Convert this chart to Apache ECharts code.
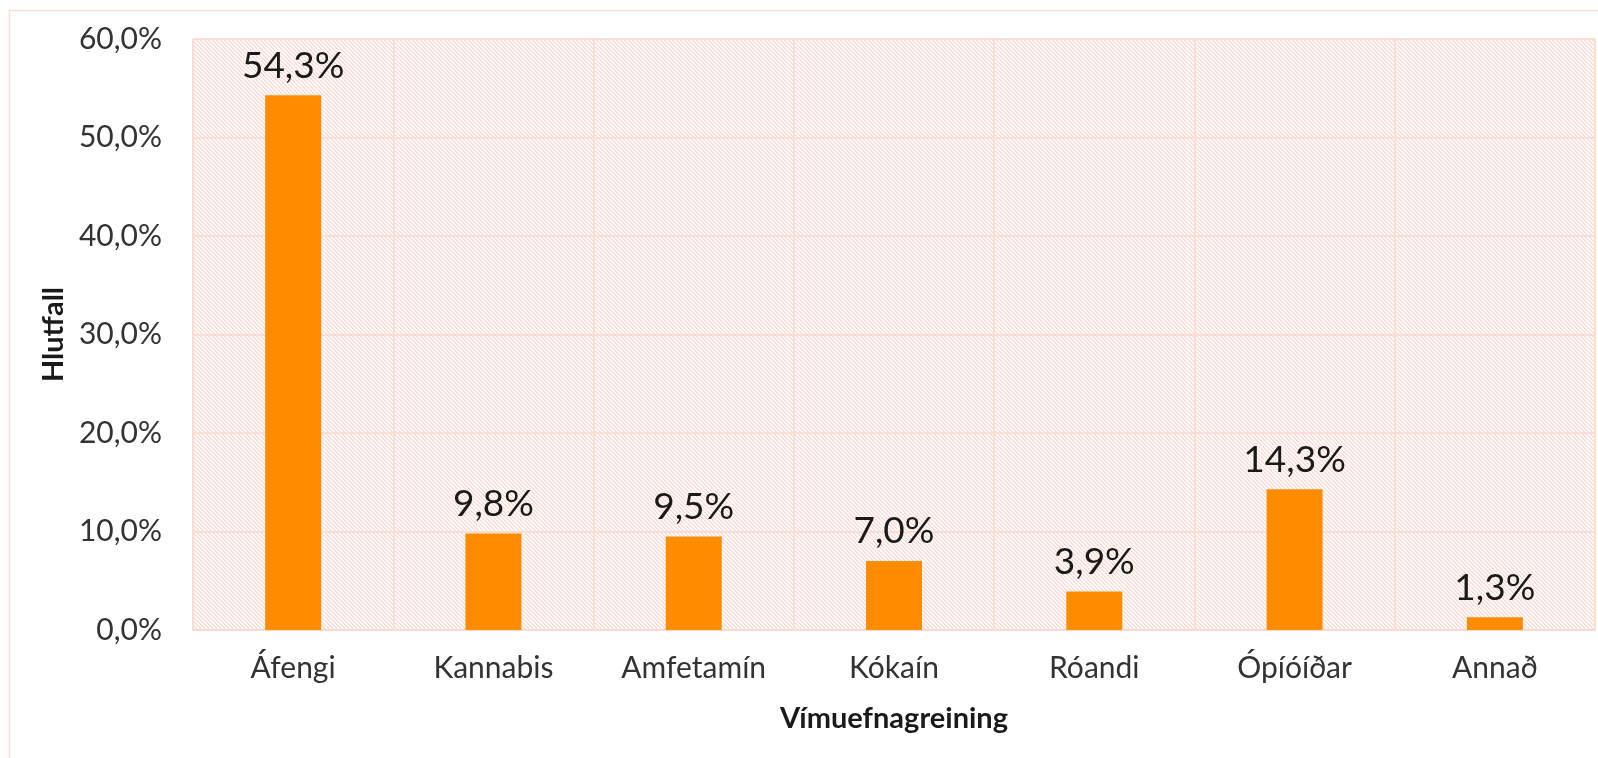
<!DOCTYPE html>
<html>
<head>
<meta charset="utf-8">
<script src="https://cdn.jsdelivr.net/npm/echarts@6/dist/echarts.min.js"></script>
<style>
  html, body { margin: 0; padding: 0; background: #fff; }
  #chart { width: 1598px; height: 758px; }
</style>
</head>
<body>
<div id="chart"></div>
<script>
// Data
const categories = ['Áfengi', 'Kannabis', 'Amfetamín', 'Kókaín', 'Róandi', 'Ópíóíðar', 'Annað']
const shares = [54.3, 9.8, 9.5, 7.0, 3.9, 14.3, 1.3]
const yTicks = { min: 0, max: 60, interval: 10 }

const pink = '#ffd8ce'
const fontFamily = 'Lato, "Open Sans", sans-serif'

// diagonal hatch pattern for the plot area
const makeHatch = () => {
  const c = document.createElement('canvas')
  c.width = 4
  c.height = 4
  const ctx = c.getContext('2d')
  ctx.fillStyle = '#fff'
  ctx.fillRect(0, 0, 4, 4)
  for (let y = 0; y < 4; y++) {
    ctx.fillStyle = 'rgb(255,214,204)'
    ctx.fillRect(y % 4, y, 1, 1)
    ctx.fillStyle = 'rgb(255,232,226)'
    ctx.fillRect((y + 1) % 4, y, 1, 1)
  }
  return c
}

const fmt = v => v.toFixed(1).replace('.', ',') + '%'

const chart = echarts.init(document.getElementById('chart'))
chart.setOption({
  backgroundColor: '#fff',
  animation: false,
  textStyle: { fontFamily },
  graphic: [{
    type: 'rect',
    shape: { x: 9.5, y: 10.5, width: 1700, height: 800 },
    style: { fill: 'none', stroke: '#ffe0d8', lineWidth: 1.5 },
    z: -1
  }],
  grid: {
    left: 193, right: 3, top: 39, bottom: 128,
    show: true,
    backgroundColor: { image: makeHatch(), repeat: 'repeat' },
    borderColor: pink,
    borderWidth: 1
  },
  xAxis: {
    type: 'category',
    data: categories,
    name: 'Vímuefnagreining',
    nameLocation: 'middle',
    nameGap: 74,
    nameTextStyle: { fontSize: 29, fontWeight: 'bold', color: '#1a1a1a', fontFamily },
    axisLine: { lineStyle: { color: pink, width: 1.5 } },
    axisTick: { show: false },
    axisLabel: { fontSize: 30, color: '#333', margin: 23, fontFamily },
    splitLine: { show: true, interval: 0, lineStyle: { color: pink, width: 1.5 } }
  },
  yAxis: {
    type: 'value',
    min: yTicks.min,
    max: yTicks.max,
    interval: yTicks.interval,
    name: 'Hlutfall',
    nameLocation: 'middle',
    nameRotate: 90,
    nameGap: 122,
    nameTextStyle: { fontSize: 29, fontWeight: 'bold', color: '#1a1a1a', fontFamily },
    axisLine: { show: false },
    axisTick: { show: false },
    axisLabel: { fontSize: 30, color: '#333', margin: 31, formatter: v => fmt(v), fontFamily },
    splitLine: { lineStyle: { color: pink, width: 1.5 } }
  },
  series: [{
    type: 'bar',
    data: shares,
    barWidth: 56,
    itemStyle: { color: '#ff8c00' },
    label: {
      show: true,
      position: 'top',
      distance: 11,
      fontSize: 37,
      color: '#1a1a1a',
      fontFamily,
      formatter: p => fmt(p.value)
    }
  }]
})
</script>
</body>
</html>
